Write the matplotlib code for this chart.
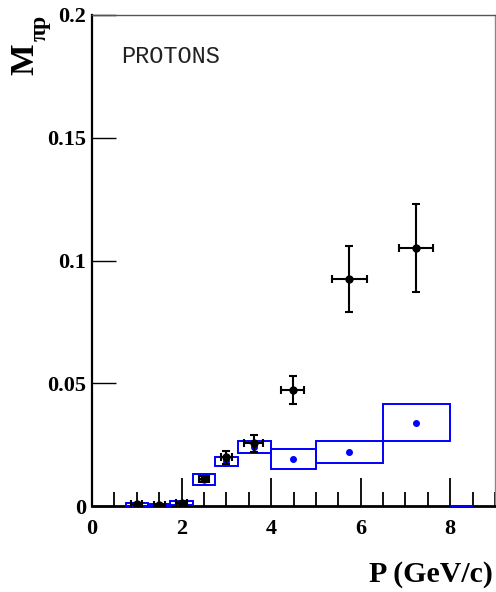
import numpy as np
import matplotlib.pyplot as plt
from matplotlib.ticker import MultipleLocator

# Medidas (puntos negros con errores)
p_data = [1.0, 1.5, 2.0, 2.5, 3.0, 3.61, 4.48, 5.75, 7.24]
m_data = [0.0008, 0.0004, 0.0011, 0.0109, 0.0198, 0.0255, 0.0472, 0.0925, 0.1052]
m_err = [0.0003, 0.0003, 0.0004, 0.0012, 0.0027, 0.0035, 0.0056, 0.0135, 0.018]
p_err = [0.12, 0.12, 0.12, 0.12, 0.13, 0.22, 0.26, 0.385, 0.38]

# Prediccion (cajas azules)
bin_edges = [0.75, 1.25, 1.75, 2.25, 2.75, 3.25, 4.0, 5.0, 6.5, 8.0, 8.5]
box_lo = [0.0002, 0.0, 0.0004, 0.0085, 0.0163, 0.0215, 0.0151, 0.0175, 0.0264, 0.0]
box_hi = [0.0014, 0.0008, 0.0020, 0.0132, 0.0201, 0.0265, 0.0232, 0.0266, 0.0415, 0.0]
p_pred = [1.0, 1.5, 2.0, 2.5, 3.0, 3.61, 4.48, 5.75, 7.24]
m_pred = [0.0008, 0.0004, 0.0012, 0.0108, 0.0182, 0.024, 0.0191, 0.022, 0.0339]

x_ticks = [0, 2, 4, 6, 8]
y_ticks = [0, 0.05, 0.1, 0.15, 0.2]
y_ticklabels = ['0', '0.05', '0.1', '0.15', '0.2']

serif = ['Liberation Serif', 'DejaVu Serif']

fig = plt.figure(figsize=(4.96, 5.92), dpi=100)
ax = fig.add_axes([92 / 496, 86 / 592, 403 / 496, 491 / 592])

edges = np.array(bin_edges)
lo = np.array(box_lo)
hi = np.array(box_hi)
ax.bar((edges[:-1] + edges[1:]) / 2, hi - lo, bottom=lo, width=np.diff(edges),
       fill=False, edgecolor='#0000ff', linewidth=1.4, zorder=3, clip_on=False)
ax.plot(p_pred, m_pred, 'o', color='#0000ff', markersize=4, zorder=4)

ax.errorbar(p_data, m_data, xerr=p_err, yerr=m_err, fmt='o', color='black',
            markersize=5, elinewidth=1.5, capsize=3, capthick=1.5, zorder=5)

ax.set_xlim(0, 9)
ax.set_ylim(0, 0.2)

ax.set_xticks(x_ticks)
ax.set_xticklabels([str(t) for t in x_ticks])
ax.xaxis.set_minor_locator(MultipleLocator(0.5))
ax.set_yticks(y_ticks)
ax.set_yticklabels(y_ticklabels)

ax.tick_params(axis='x', which='major', direction='in', length=20, width=1.3, pad=9)
ax.tick_params(axis='x', which='minor', direction='in', length=10, width=1.3)
ax.tick_params(axis='y', which='major', direction='in', length=17, width=1.0, pad=4)
for lab in ax.get_xticklabels() + ax.get_yticklabels():
    lab.set_family(serif)
    lab.set_fontweight('bold')
    lab.set_fontsize(16)

ax.spines['left'].set_linewidth(1.6)
ax.spines['bottom'].set_linewidth(2.0)
ax.spines['top'].set_color('#555555')
ax.spines['right'].set_color('#888888')
ax.spines['top'].set_linewidth(1.0)
ax.spines['right'].set_linewidth(1.0)

# Etiquetas de los ejes
fig.text(493 / 496, 1 - 574 / 592, 'P (GeV/c)', ha='right', va='center',
         family=serif, fontweight='bold', fontsize=21.5)
fig.text(25 / 496, 1 - 59 / 592, 'M', ha='center', va='center', rotation=90,
         family=serif, fontweight='bold', fontsize=24)
fig.text(40 / 496, 1 - 28 / 592, 'πp', ha='center', va='center', rotation=90,
         family=serif, fontweight='bold', fontsize=17)

ax.text(0.072, 0.915, 'PROTONS', transform=ax.transAxes, ha='left', va='center',
        family=['Liberation Mono', 'DejaVu Sans Mono'], fontsize=17, color='#222222')

fig.savefig('out.png', dpi=100)
